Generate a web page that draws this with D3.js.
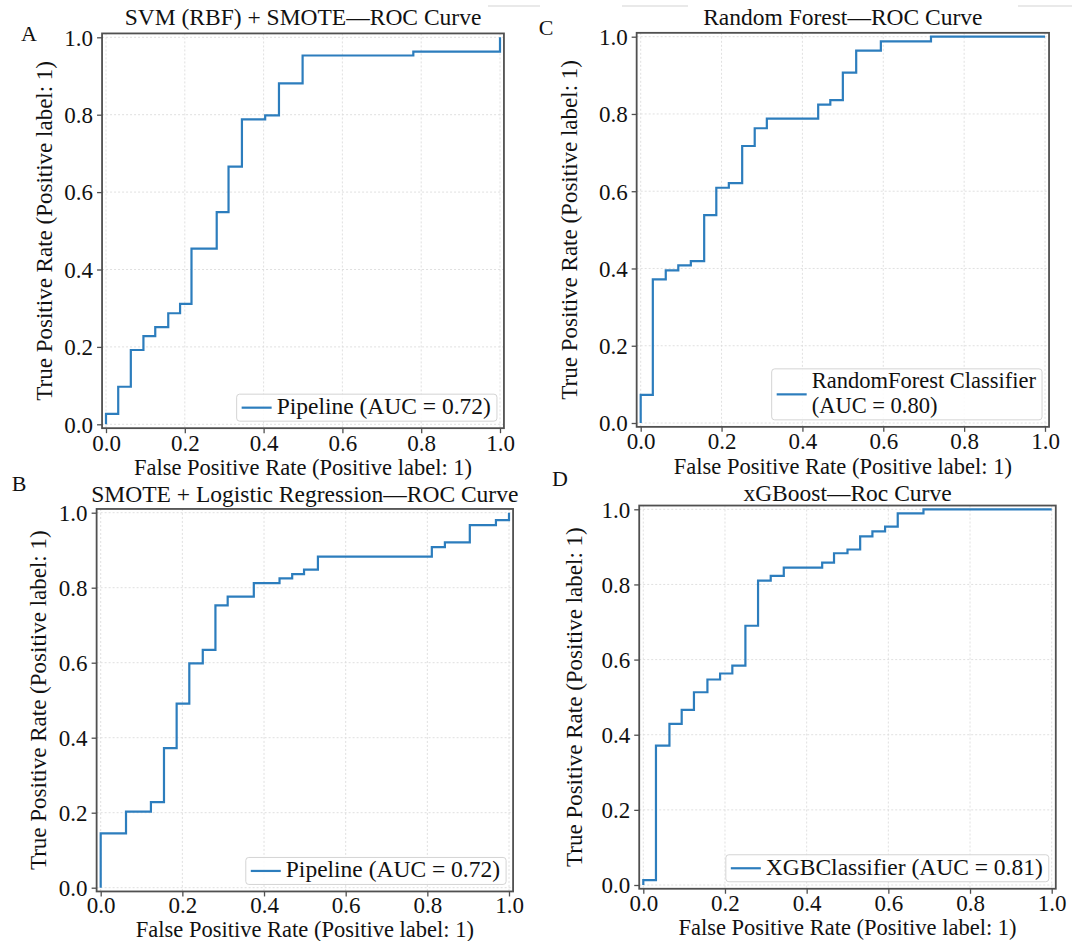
<!DOCTYPE html>
<html>
<head>
<meta charset="utf-8">
<script src="https://cdn.jsdelivr.net/npm/d3@7"></script>
<style>
  body { margin: 0; background: #fff; }
  svg { display: block; font-family: "Liberation Serif", "Times New Roman", serif; }
</style>
</head>
<body>
<svg id="chart" width="1072" height="941"></svg>
<script>
// ROC points (sklearn-style, drawn as steps)
const fprA = [0, 0, 0.031, 0.063, 0.095, 0.125, 0.158, 0.188, 0.217, 0.281, 0.311, 0.345, 0.404, 0.439, 0.499, 0.780, 1.0]
const tprA = [0, 0.027, 0.097, 0.192, 0.228, 0.251, 0.287, 0.311, 0.454, 0.548, 0.666, 0.788, 0.798, 0.881, 0.953, 0.963, 1.0]

const fprB = [0, 0, 0.062, 0.123, 0.155, 0.186, 0.217, 0.250, 0.281, 0.311, 0.375, 0.438, 0.469, 0.498, 0.532, 0.811, 0.843, 0.904, 0.968, 1.0]
const tprB = [0, 0.145, 0.203, 0.228, 0.372, 0.491, 0.598, 0.634, 0.753, 0.776, 0.812, 0.825, 0.836, 0.848, 0.883, 0.908, 0.921, 0.967, 0.980, 1.0]

const fprC = [0, 0, 0.030, 0.062, 0.093, 0.124, 0.157, 0.187, 0.218, 0.251, 0.282, 0.312, 0.439, 0.469, 0.500, 0.533, 0.594, 0.718, 1.0]
const tprC = [0, 0.073, 0.372, 0.395, 0.408, 0.419, 0.538, 0.609, 0.621, 0.717, 0.763, 0.788, 0.824, 0.836, 0.907, 0.964, 0.988, 1.0, 1.0]

const fprD = [0, 0, 0.031, 0.064, 0.094, 0.124, 0.157, 0.188, 0.218, 0.250, 0.281, 0.312, 0.344, 0.438, 0.467, 0.500, 0.531, 0.561, 0.592, 0.623, 0.686, 1.0]
const tprD = [0, 0.013, 0.371, 0.429, 0.466, 0.513, 0.547, 0.563, 0.584, 0.690, 0.810, 0.823, 0.845, 0.858, 0.883, 0.893, 0.928, 0.941, 0.954, 0.989, 1.0, 1.0]

const ticks = [0, 0.2, 0.4, 0.6, 0.8, 1.0]
const titles = ["SVM (RBF) + SMOTE\u2014ROC Curve", "SMOTE + Logistic Regression\u2014ROC Curve",
                "Random Forest\u2014ROC Curve", "xGBoost\u2014Roc Curve"]
const legendLabels = [["Pipeline (AUC = 0.72)"], ["Pipeline (AUC = 0.72)"],
                      ["RandomForest Classifier", "(AUC = 0.80)"], ["XGBClassifier (AUC = 0.81)"]]
const panelLetters = ["A", "B", "C", "D"]
const xLabel = "False Positive Rate (Positive label: 1)"
const yLabel = "True Positive Rate (Positive label: 1)"

// layout of each panel: pixel spots of data 0 and 1 on both axes
const panels = [
    { fpr: fprA, tpr: tprA, x0: 106, x1: 500, y0: 424.3, y1: 37.3, letter: [29, 41], tickOff: 22.5, labOff: 47, ylabX: 44, titleOff: 8 },
    { fpr: fprB, tpr: tprB, x0: 100.7, x1: 509, y0: 887.7, y1: 512.7, letter: [19, 491], tickOff: 22, labOff: 46, ylabX: 38, titleOff: 7 },
    { fpr: fprC, tpr: tprC, x0: 640.7, x1: 1045, y0: 423, y1: 36.7, letter: [546, 35], tickOff: 22.5, labOff: 47, ylabX: 569, titleOff: 8 },
    { fpr: fprD, tpr: tprD, x0: 643.3, x1: 1051.7, y0: 885, y1: 509.3, letter: [560, 486], tickOff: 22, labOff: 46, ylabX: 574, titleOff: 5 }
]

const lineColor = "#2c7dbd"
const svg = d3.select("#chart")

// faint crop lines at the top of the figure
svg.selectAll("line.crop")
    .data([[488, 540], [622, 688], [1018, 1072]])
    .enter().append("line")
    .attr("x1", d => d[0]).attr("x2", d => d[1])
    .attr("y1", 6).attr("y2", 6)
    .attr("stroke", "#e2e2e2").attr("stroke-width", 1.5)

panels.forEach((p, i) => {
    const x = d3.scaleLinear().domain([0, 1]).range([p.x0, p.x1])
    const y = d3.scaleLinear().domain([0, 1]).range([p.y0, p.y1])
    const left = x(-0.01), right = x(1.01), top = y(1.01), bottom = y(-0.01)
    const g = svg.append("g")

    // grid
    g.selectAll("line.gx").data(ticks).enter().append("line")
        .attr("x1", d => x(d)).attr("x2", d => x(d))
        .attr("y1", top).attr("y2", bottom)
        .attr("stroke", "#dcdcdc").attr("stroke-width", 0.9).attr("stroke-dasharray", "2,2")
    g.selectAll("line.gy").data(ticks).enter().append("line")
        .attr("y1", d => y(d)).attr("y2", d => y(d))
        .attr("x1", left).attr("x2", right)
        .attr("stroke", "#dcdcdc").attr("stroke-width", 0.9).attr("stroke-dasharray", "2,2")

    // roc curve
    const line = d3.line()
        .x(d => x(d[0])).y(d => y(d[1]))
        .curve(d3.curveStepAfter)
    g.append("path")
        .datum(d3.zip(p.fpr, p.tpr))
        .attr("d", line)
        .attr("fill", "none")
        .attr("stroke", lineColor)
        .attr("stroke-width", 2.2)

    // frame
    g.append("rect")
        .attr("x", left).attr("y", top)
        .attr("width", right - left).attr("height", bottom - top)
        .attr("fill", "none").attr("stroke", "#505050").attr("stroke-width", 1.8)

    // axes (ticks + labels)
    const xAxis = g.append("g")
        .attr("transform", "translate(0," + bottom + ")")
        .call(d3.axisBottom(x).tickValues(ticks).tickFormat(d3.format(".1f")).tickSize(5).tickPadding(3))
    const yAxis = g.append("g")
        .attr("transform", "translate(" + left + ",0)")
        .call(d3.axisLeft(y).tickValues(ticks).tickFormat(d3.format(".1f")).tickSize(5).tickPadding(4))
    ;[xAxis, yAxis].forEach(a => {
        a.select(".domain").remove()
        a.selectAll(".tick line").attr("stroke", "#505050").attr("stroke-width", 1.3)
        a.selectAll(".tick text")
            .attr("fill", "#111")
            .style("font-family", '"Liberation Serif", serif')
            .style("font-size", "23px")
    })
    xAxis.selectAll(".tick text").attr("dy", null).attr("y", p.tickOff)
    yAxis.selectAll(".tick text").attr("dy", "0.34em")

    // axis labels
    g.append("text")
        .attr("x", (left + right) / 2).attr("y", bottom + p.labOff)
        .attr("text-anchor", "middle")
        .style("font-size", "22.5px").attr("fill", "#111")
        .text(xLabel)
    g.append("text")
        .attr("transform", "translate(" + p.ylabX + "," + ((top + bottom) / 2) + ") rotate(-90)")
        .attr("text-anchor", "middle")
        .attr("dy", "0.35em")
        .style("font-size", "23px").attr("fill", "#111")
        .text(yLabel)

    // title
    g.append("text")
        .attr("x", (left + right) / 2).attr("y", top - p.titleOff)
        .attr("text-anchor", "middle")
        .style("font-size", "23.5px").attr("fill", "#111")
        .text(titles[i])

    // panel letter
    g.append("text")
        .attr("x", p.letter[0]).attr("y", p.letter[1])
        .attr("text-anchor", "middle")
        .style("font-size", "22px").attr("fill", "#111")
        .text(panelLetters[i])

    // legend, lower right
    const lines = legendLabels[i]
    const lg = g.append("g")
    const multi = lines.length > 1
    const lineH = multi ? 24.5 : 25
    const texts = lg.selectAll("text").data(lines).enter().append("text")
        .style("font-size", multi ? "22.5px" : "23.5px").attr("fill", "#111")
        .text(d => d)
    const tw = d3.max(texts.nodes(), n => n.getComputedTextLength())
    const boxW = 5 + 30 + 6 + tw + 5
    const boxH = 2 + lines.length * lineH
    const bx = right - 7 - boxW, by = bottom - 7 - boxH
    lg.insert("rect", "text")
        .attr("x", bx).attr("y", by).attr("width", boxW).attr("height", boxH)
        .attr("rx", 3).attr("fill", "#fff").attr("fill-opacity", 0.85)
        .attr("stroke", "#d4d4d4").attr("stroke-width", 1)
    const ly = by + 1 + lineH / 2 + (lines.length - 1) * lineH / 2
    lg.append("line")
        .attr("x1", bx + 5).attr("x2", bx + 35)
        .attr("y1", ly).attr("y2", ly)
        .attr("stroke", lineColor).attr("stroke-width", 2.2)
    texts.attr("x", bx + 40).attr("y", (d, j) => by + 1 + lineH * (j + 1) - 6)
})
</script>
</body>
</html>
